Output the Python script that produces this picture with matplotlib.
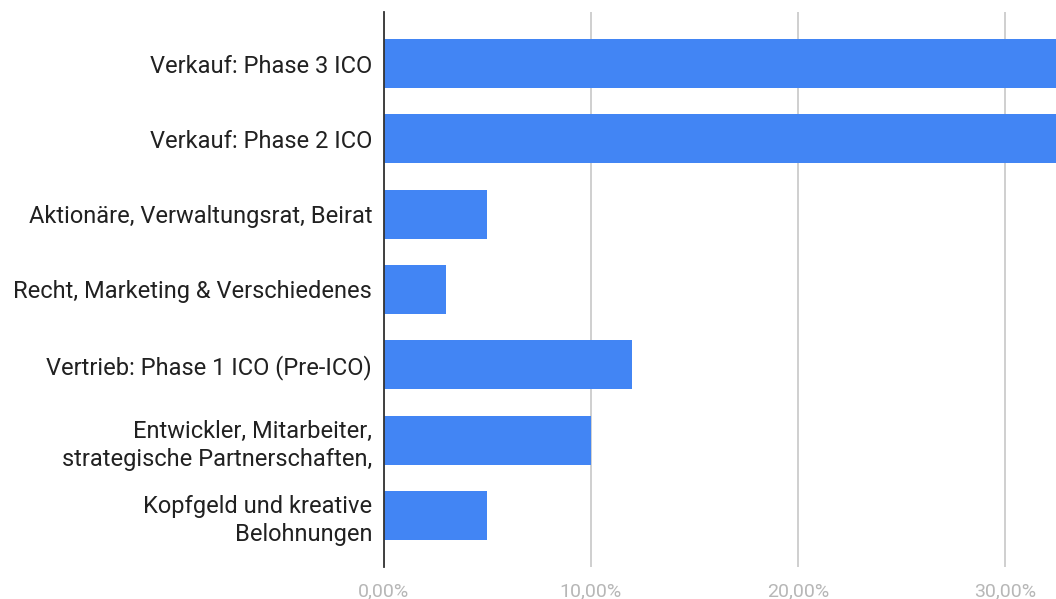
import matplotlib
matplotlib.use("Agg")
import matplotlib.pyplot as plt
from matplotlib.ticker import FuncFormatter

categories = [
    "Verkauf: Phase 3 ICO",
    "Verkauf: Phase 2 ICO",
    "Aktionäre, Verwaltungsrat, Beirat",
    "Recht, Marketing & Verschiedenes",
    "Vertrieb: Phase 1 ICO (Pre-ICO)",
    "Entwickler, Mitarbeiter,\nstrategische Partnerschaften,",
    "Kopfgeld und kreative\nBelohnungen",
]
values = [32.5, 32.5, 5, 3, 12, 10, 5]
xticks = [0, 10, 20, 30]

plt.rcParams['font.family'] = ['Roboto', 'DejaVu Sans']

fig = plt.figure(figsize=(10.56, 5.99), dpi=100)
ax = fig.add_axes([0.3636, 0.0534, 0.6364, 0.9266])

ypos = list(range(len(categories)))
ax.barh(ypos, values, height=0.65, color='#4285F4', zorder=3)
ax.set_ylim(len(categories) - 0.5 + 0.185, -0.5 - 0.185)
ax.set_xlim(0, 32.47)

ax.set_yticks(ypos)
ax.set_yticklabels(categories, fontsize=17, color='#212121', linespacing=1.3)
ax.tick_params(axis='y', length=0, pad=8.5)

ax.set_xticks(xticks)
ax.xaxis.set_major_formatter(FuncFormatter(lambda v, p: f"{v:.2f}".replace('.', ',') + "%"))
ax.tick_params(axis='x', length=0, pad=11, labelsize=14, labelcolor='#b7b7b7')

ax.grid(axis='x', color='#cccccc', linewidth=1.3, zorder=0)
for s in ['top', 'right', 'bottom']:
    ax.spines[s].set_visible(False)
ax.spines['left'].set_color('#333333')
ax.spines['left'].set_linewidth(1.3)
ax.spines['left'].set_zorder(4)

fig.savefig("out.png", dpi=100)
